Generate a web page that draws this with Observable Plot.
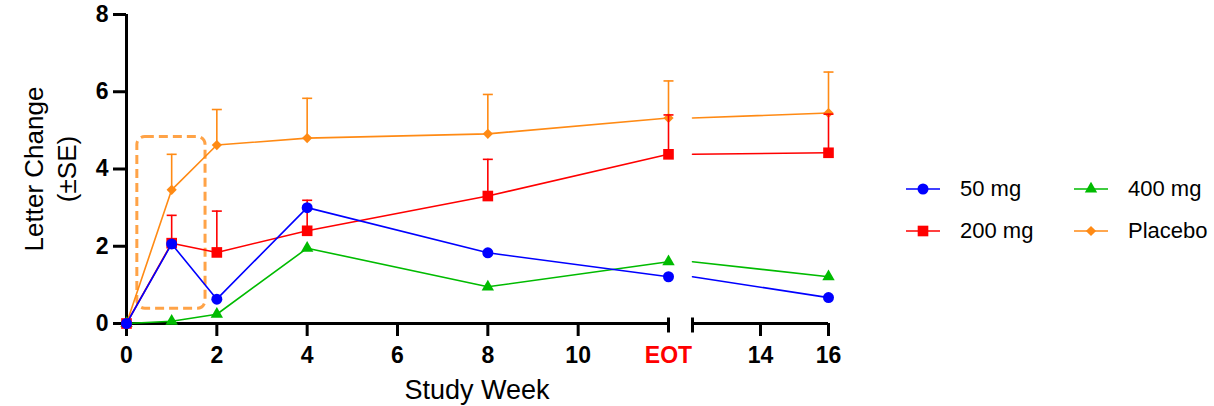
<!DOCTYPE html>
<html>
<head>
<meta charset="utf-8">
<script src="https://cdn.jsdelivr.net/npm/d3@7"></script>
<script src="https://cdn.jsdelivr.net/npm/@observablehq/plot@0.6"></script>
<style>
  body { margin: 0; background: #fff; font-family: "Liberation Sans", Arial, sans-serif; }
  #wrap { position: relative; width: 1214px; height: 406px; overflow: hidden; background: #fff; }
  #p1 { position: absolute; left: 0; top: 0; }
  #p2 { position: absolute; left: 680px; top: 0; }
  #xlabel { position: absolute; left: 126px; width: 702px; top: 377px; text-align: center;
            font-size: 27px; line-height: 27px; color: #000; }
  #legend { position: absolute; left: 906px; top: 168px; display: grid;
            grid-template-columns: 168px auto; grid-auto-rows: 42px; }
  .item { display: flex; align-items: center; font-size: 22px; color: #000; }
  .item svg { margin-right: 20px; flex: none; }
</style>
</head>
<body>
<div id="wrap">
  <div id="p1"></div>
  <div id="p2"></div>
  <div id="xlabel"></div>
  <div id="legend"></div>
</div>
<script>
// ---------- data ----------
const weeks = [0, 1, 2, 4, 8, 12, 16];
const mg50 = [0, 2.06, 0.63, 3.00, 1.83, 1.21, 0.67];
const mg200 = [0, 2.08, 1.84, 2.40, 3.30, 4.38, 4.42];
const mg200SE = [0, 0.72, 1.07, 0.79, 0.95, 1.02, 1.00];
const mg400 = [0, 0.06, 0.24, 1.95, 0.95, 1.60, 1.21];
const placebo = [0, 3.46, 4.62, 4.80, 4.91, 5.32, 5.45];
const placeboSE = [0, 0.92, 0.92, 1.03, 1.02, 0.96, 1.06];

const xTicksMain = [0, 2, 4, 6, 8, 10];
const xTicksTail = [14, 16];
const eotWeek = 12;
const eotLabel = "EOT";
const yTicks = [0, 2, 4, 6, 8];
const xTitle = "Study Week";
const yTitle = "Letter Change\n(±SE)";
const legendOrder = ["50 mg", "400 mg", "200 mg", "Placebo"];

// highlighted region (weeks / letter change)
const boxWeeks = [0.24, 1.75];
const boxValues = [0.38, 4.83];

// ---------- styles ----------
const series = [
  {name: "Placebo", values: placebo, se: placeboSE, color: "#FF8A14", symbol: "diamond2", r: 4.6},
  {name: "400 mg", values: mg400, se: null, color: "#00BB00", symbol: "triangle", r: 4.6},
  {name: "200 mg", values: mg200, se: mg200SE, color: "#FF0000", symbol: "square", r: 6},
  {name: "50 mg", values: mg50, se: null, color: "#0000FF", symbol: "circle", r: 5.5}
];

const capSymbol = {draw(ctx) { ctx.moveTo(-5, 0); ctx.lineTo(5, 0); }};
const breakSymbol = {draw(ctx) { ctx.moveTo(0, -6); ctx.lineTo(0, 9); }};
const tickFont = {fontWeight: "bold", fontSize: 23};

function rowsOf(s) {
  return weeks.map((w, i) => ({week: w, value: s.values[i], se: s.se ? s.se[i] : 0}));
}

function seriesMarks(keep, keepMarker) {
  const marks = [];
  for (const s of series) {
    const rows = rowsOf(s);
    const lineRows = rows.filter(d => keep(d.week));
    const ptRows = rows.filter(d => keepMarker(d.week));
    marks.push(Plot.line(lineRows, {x: "week", y: "value", stroke: s.color, strokeWidth: 1.6}));
    const eb = ptRows.filter(d => d.se > 0);
    marks.push(Plot.ruleX(eb, {x: "week", y1: "value", y2: d => d.value + d.se, stroke: s.color, strokeWidth: 1.6}));
    marks.push(Plot.dot(eb, {x: "week", y: d => d.value + d.se, symbol: capSymbol, fill: "none", stroke: s.color, strokeWidth: 1.6}));
    marks.push(Plot.dot(ptRows, {x: "week", y: "value", symbol: s.symbol, r: s.r, fill: s.color, stroke: "none"}));
  }
  return marks;
}

const commonStyle = {fontFamily: "'Liberation Sans', Arial, sans-serif", fontSize: "23px", fontWeight: "bold", color: "#000", overflow: "visible"};

// ---------- panel 1: weeks 0..EOT ----------
const p1 = Plot.plot({
  width: 680, height: 406,
  marginLeft: 126, marginRight: 12, marginTop: 14, marginBottom: 83,
  style: commonStyle,
  x: {domain: [0, eotWeek], label: null},
  y: {domain: [0, 8], label: null},
  marks: [
    Plot.rect([0], {x1: () => boxWeeks[0], x2: () => boxWeeks[1], y1: () => boxValues[0], y2: () => boxValues[1],
      rx: 8, fill: "none", stroke: "#FFA347", strokeWidth: 3, strokeDasharray: "9,5"}),
    Plot.ruleY([0], {stroke: "#000", strokeWidth: 3}),
    Plot.ruleX([0], {stroke: "#000", strokeWidth: 3}),
    Plot.axisY(yTicks, {tickSize: 13, tickPadding: 5, strokeWidth: 3, ...tickFont, label: null}),
    Plot.axisX(xTicksMain, {tickSize: 13, tickPadding: 10, strokeWidth: 3, ...tickFont, label: null}),
    Plot.axisX([eotWeek], {tickSize: 0, tickPadding: 23, tickFormat: () => eotLabel, fill: "#FF0000", ...tickFont, label: null}),
    Plot.dot([eotWeek], {x: d => d, frameAnchor: "bottom", symbol: breakSymbol, fill: "none", stroke: "#000", strokeWidth: 3}),
    Plot.text([yTitle], {frameAnchor: "left", rotate: -90, dx: -78, text: d => d, fontSize: 26, fontWeight: "normal",
      lineHeight: 1.27, textAnchor: "middle", lineAnchor: "middle", fill: "#000"}),
    ...seriesMarks(w => w <= eotWeek, w => w <= eotWeek)
  ]
});
document.getElementById("p1").append(p1);

// ---------- panel 2: EOT..16 ----------
const p2 = Plot.plot({
  width: 160, height: 406,
  marginLeft: 12, marginRight: 12, marginTop: 14, marginBottom: 83,
  style: commonStyle,
  x: {domain: [eotWeek, 16], label: null},
  y: {domain: [0, 8], label: null, axis: null},
  marks: [
    Plot.ruleY([0], {stroke: "#000", strokeWidth: 3}),
    Plot.axisX(xTicksTail, {tickSize: 13, tickPadding: 10, strokeWidth: 3, ...tickFont, label: null}),
    Plot.dot([eotWeek], {x: d => d, frameAnchor: "bottom", symbol: breakSymbol, fill: "none", stroke: "#000", strokeWidth: 3}),
    ...seriesMarks(w => w >= eotWeek, w => w > eotWeek)
  ]
});
document.getElementById("p2").append(p2);

// ---------- titles & legend ----------
document.getElementById("xlabel").textContent = xTitle;

const legend = document.getElementById("legend");
const symMap = {circle: d3.symbolCircle, square: d3.symbolSquare, triangle: d3.symbolTriangle, diamond2: d3.symbolDiamond2};
for (const name of legendOrder) {
  const s = series.find(d => d.name === name);
  const item = document.createElement("div");
  item.className = "item";
  const svg = d3.create("svg").attr("width", 34).attr("height", 20);
  svg.append("line").attr("x1", 0).attr("x2", 34).attr("y1", 10).attr("y2", 10)
    .attr("stroke", s.color).attr("stroke-width", 1.6);
  svg.append("path").attr("transform", "translate(17,10)")
    .attr("d", d3.symbol(symMap[s.symbol], Math.PI * s.r * s.r)())
    .attr("fill", s.color);
  item.append(svg.node());
  const label = document.createElement("span");
  label.textContent = name;
  item.append(label);
  legend.append(item);
}
</script>
</body>
</html>
